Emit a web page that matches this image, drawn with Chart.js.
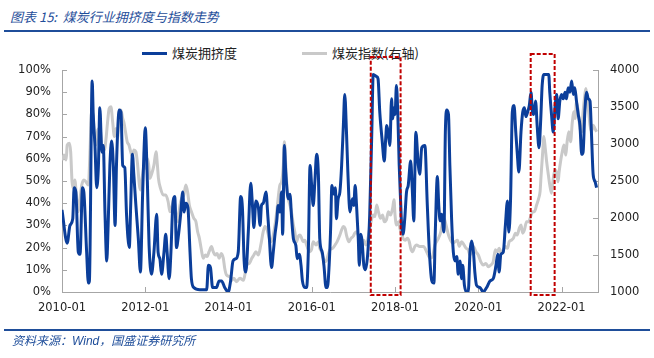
<!DOCTYPE html>
<html><head><meta charset="utf-8">
<script src="https://cdn.jsdelivr.net/npm/chart.js@4.4.1/dist/chart.umd.min.js"></script>
<style>
html,body{margin:0;padding:0;background:#fff;}
#wrap{position:relative;width:654px;height:358px;overflow:hidden;background:#fff;}
#c{position:absolute;left:0;top:0;}
.title{position:absolute;left:10px;top:7px;font:italic 13px "Noto Sans CJK SC",sans-serif;color:#1F4E9A;white-space:pre;}
.rule{position:absolute;left:4px;width:646px;height:2px;background:#1F4E9A;}
.foot{position:absolute;left:12px;top:331px;font:italic 12px "Noto Sans CJK SC",sans-serif;color:#1F4E9A;white-space:pre;}
.lg{position:absolute;top:45px;font:13px "Noto Sans CJK SC",sans-serif;color:#222;white-space:pre;line-height:16px;}
.lg i{display:inline-block;width:25px;height:3px;vertical-align:middle;margin-right:5px;position:relative;top:-1px;}
</style></head>
<body><div id="wrap">
<div class="title">图表 15:  煤炭行业拥挤度与指数走势</div>
<div class="rule" style="top:30px"></div>
<div class="lg" style="left:142px"><i style="background:#0B3E9A"></i>煤炭拥挤度</div>
<div class="lg" style="left:302px"><i style="background:#C9C9C9"></i>煤炭指数(右轴)</div>
<canvas id="c" width="654" height="358"></canvas>
<div class="rule" style="top:329px"></div>
<div class="foot">资料来源：<b style="font-family:'Liberation Sans',sans-serif;font-weight:normal">Wind</b>，国盛证券研究所</div>
</div>
<script>
// months since 2010-01
const blueT = [0,1.5,2.3,3.1,3.5,4.0,4.7,5.2,5.9,6.3,7.1,7.6,7.9,8.7,9.0,9.5,10.0,10.5,10.9,11.5,11.9,12.4,12.9,13.3,13.8,14.3,14.8,15.3,15.7,16.5,17.0,17.5,18.1,18.6,19.4,19.8,20.3,20.7,21.3,22.0,22.6,23.2,23.6,24.0,24.6,25.1,25.8,26.5,27.3,27.7,28.2,28.7,29.4,29.9,30.3,30.9,31.4,31.9,32.5,33.0,33.6,34.2,34.8,35.2,35.7,36.3,36.9,37.3,38.0,39.7,41.7,42.2,42.8,43.4,44.5,45.3,46.0,46.9,47.9,48.6,49.3,50.1,50.8,51.5,52.0,52.5,53.0,53.7,54.4,54.9,55.3,55.9,56.6,57.1,57.5,58.0,58.8,59.3,59.7,60.4,60.9,61.4,61.9,62.3,62.8,63.3,63.6,64.1,64.5,65.2,65.7,66.2,66.7,67.4,67.8,68.4,68.9,69.3,70.0,70.5,71.0,71.5,72.0,72.4,72.9,73.4,73.9,74.3,75.0,75.5,76.1,76.5,77.0,77.4,77.8,78.4,78.8,79.1,79.6,80.1,80.6,81.1,81.5,82.0,82.4,83.0,83.7,84.1,84.5,84.9,85.4,85.7,86.1,86.5,87.0,87.5,88.0,88.4,88.7,89.3,89.7,90.7,91.1,91.6,92.3,92.9,93.3,93.6,94.0,94.5,95.0,95.3,95.7,96.0,96.4,96.8,97.2,97.6,97.9,98.3,98.8,99.3,99.8,100.5,101.0,101.4,102.0,102.7,103.1,103.7,104.6,105.3,105.9,106.6,107.2,107.6,108.2,108.6,109.0,109.4,110.1,110.5,110.9,111.4,111.8,112.3,112.8,113.3,113.8,114.2,114.7,115.2,115.5,116.0,116.6,117.1,117.6,118.1,118.6,119.0,119.5,120.5,121.4,122.4,123.4,124.3,125.1,125.6,126.0,126.5,127.2,127.8,128.4,128.8,129.3,129.8,130.3,130.8,131.2,131.7,132.3,132.8,133.3,133.7,134.2,134.7,135.2,135.6,136.0,136.5,137.0,137.5,138.0,138.4,138.9,139.7,140.3,140.6,141.1,141.6,142.1,142.6,143.0,143.5,144.0,144.5,145.0,145.4,145.9,146.4,146.9,147.4,147.8,148.3,148.8,149.3,149.8,150.2,150.7,151.2,151.7,152.2,152.6,153.1,153.6,154.1];
const congestion = [37,22,30,33,47,45,18,17,47,45,18,4,5,95,80,66,47,57,83,63,66,35,14,30,57,68,57,30,57,82,81,57,56,35,20,39,62,53,39,24,9,42,62,74,50,21,8,18,35,18,15,8,18,26,18,6,18,38,43,20,26,35,45,36,40,38,18,6,2,1,1,12,11,2,2,5,5,2,0,5,14,15,18,43,38,14,9,27,49,39,29,41,38,30,39,40,45,35,26,11,18,26,32,39,36,45,26,66,54,42,44,33,24,21,15,17,12,5,2,2,18,57,47,39,50,62,53,24,18,12,2,2,12,27,48,44,47,33,42,45,57,75,89,72,54,36,42,39,48,39,24,12,26,23,12,10,15,24,35,72,98,97,96,81,68,59,69,75,72,66,87,78,83,80,93,80,57,41,30,26,33,45,48,59,45,32,72,57,53,65,66,39,18,5,4,27,52,39,32,35,27,72,82,80,57,33,18,14,16,8,14,6,12,3,0,0,18,23,18,9,3,2,0,2,5,6,12,17,9,17,18,30,41,27,42,81,84,72,63,54,72,81,83,79,81,84,90,81,80,86,74,65,78,93,98,98,98,90,80,72,83,89,78,86,89,87,90,87,92,90,95,89,92,86,80,75,62,63,81,90,87,86,72,53,50,47];
const grayT = [0,0.6,1.2,1.5,2.1,2.5,2.9,3.3,3.7,4.2,4.7,5.2,5.7,6.3,6.9,7.6,8.1,8.5,9.0,9.3,9.8,10.2,10.7,11.1,11.6,12.2,12.7,13.1,13.6,14.1,14.6,15.1,15.6,16.0,16.5,17.0,17.5,17.9,18.3,18.8,19.3,19.8,20.3,20.7,21.3,21.8,22.3,22.6,23.2,23.7,24.2,24.6,25.0,25.3,25.9,26.5,27.1,27.5,27.8,28.4,29.2,29.9,30.6,31.1,31.8,32.2,32.8,33.4,34.0,34.5,35.1,35.7,36.2,36.7,37.3,38.0,38.6,39.1,39.6,40.1,40.7,41.3,41.8,42.4,43.1,43.6,44.2,44.7,45.3,45.9,46.5,46.9,47.4,48.4,48.9,49.5,50.3,51.3,52.3,52.7,53.2,54.0,54.7,55.3,55.9,56.6,57.3,58.0,58.5,59.0,59.5,60.1,60.7,61.4,61.9,62.3,62.8,63.3,63.8,64.1,64.4,64.7,65.2,65.7,66.2,66.7,67.1,67.6,68.1,68.6,69.1,69.5,70.0,70.5,71.0,71.5,71.9,72.4,73.2,73.9,74.3,74.8,75.3,75.8,76.3,76.7,77.2,78.0,78.7,79.3,80.1,80.6,81.1,81.6,82.0,82.7,83.3,83.9,84.4,84.9,85.4,85.9,86.4,87.0,87.6,88.2,88.7,89.3,89.7,90.2,90.7,91.2,91.8,92.4,92.9,93.5,94.1,94.7,95.3,95.7,96.0,96.4,97.0,97.4,98.0,98.3,98.9,99.5,100.1,100.5,101.0,101.7,102.2,103.1,104.2,105.1,106.1,106.8,107.5,108.5,109.2,109.7,110.1,110.7,111.4,112.0,112.6,113.3,114.0,114.5,115.2,115.9,116.5,117.1,117.6,118.1,118.6,119.3,120.0,120.7,121.4,122.2,122.9,123.6,124.3,124.9,125.5,126.0,126.6,127.2,127.8,128.4,128.9,129.5,130.1,130.7,131.2,131.8,132.3,132.8,133.3,133.9,134.5,135.1,135.7,136.2,136.8,137.4,137.8,138.1,138.5,138.9,139.3,139.7,140.2,140.6,141.1,141.6,142.1,142.6,143.0,143.3,143.7,144.2,144.7,145.2,145.6,146.1,146.6,147.1,147.6,147.9,148.3,148.8,149.3,149.8,150.2,150.7,151.0,151.4,151.8,152.2,152.6,153.1,153.6,154.1];
const coalIndex = [2780,2850,2785,2985,3010,2895,2490,2400,2515,2265,2085,2265,2445,2515,2490,2445,2940,3435,3390,3120,2985,3165,3210,3165,2940,2920,3075,3280,3480,3505,3300,3100,3210,3075,3415,3460,3345,3280,3165,3030,2985,2895,2830,2920,2895,2715,2445,2380,2580,2715,2670,2805,2715,2535,2605,2715,2895,2715,2535,2400,2310,2310,2220,2085,2175,2265,2085,1950,2175,2265,2310,2445,2355,2175,2085,1995,1950,1815,1725,1590,1455,1500,1480,1545,1615,1545,1500,1520,1455,1520,1455,1320,1230,1205,1160,1185,1140,1185,1160,1230,1365,1385,1455,1500,1545,1500,1635,1815,1885,1860,1770,1680,1725,1905,2085,2265,2445,2490,2715,3030,2805,2535,2265,2175,2065,1905,1815,1680,1750,1770,1725,1680,1700,1635,1570,1545,1570,1680,1635,1680,1590,1545,1455,1410,1430,1500,1570,1590,1635,1680,1770,1840,1885,1860,1770,1680,1725,1750,1795,1815,1770,1725,1615,1700,1635,1725,1860,1995,2040,2020,2175,2085,1995,2040,1950,1975,2085,2040,2130,2245,2040,1905,1950,1860,1770,1725,1700,1725,1680,1590,1545,1615,1635,1615,1615,1545,1455,1480,1635,1725,1815,1950,1995,1905,1770,1700,1660,1680,1700,1615,1680,1635,1590,1570,1500,1545,1615,1545,1500,1410,1365,1385,1340,1365,1410,1570,1545,1590,1520,1570,1615,1590,1680,1700,1725,1795,1770,1860,1905,1795,1840,1950,1950,2020,2085,2085,2175,2265,2355,2580,2850,3100,2940,2760,2580,2445,2335,2535,2650,2605,2490,2625,2760,2895,2985,2850,3030,3165,3030,3300,3435,3345,3570,3435,3210,3165,3435,3660,3750,3615,3435,3255,3165,3255,3210,3165];
const xTickValues = [0,24,48,72,96,120,144];
const xTickLabels = ['2010-01','2012-01','2014-01','2016-01','2018-01','2020-01','2022-01'];
const highlightRanges = [[89.0,97.6],[135.1,142.0]];

const tickFont = {family:'DejaVu Sans', size:11.5};
const axisColor = '#A6A6A6';
const boxTopOffsets = [13, 16];

const inwardTicks = {
  id:'inwardTicks',
  beforeDatasetsDraw(c){
    const {ctx, chartArea:a, scales} = c;
    ctx.save(); ctx.strokeStyle = axisColor; ctx.lineWidth = 1;
    scales.y.ticks.forEach(t=>{const y=Math.round(scales.y.getPixelForValue(t.value))+0.5; ctx.beginPath(); ctx.moveTo(a.left,y); ctx.lineTo(a.left+5,y); ctx.stroke();});
    scales.y2.ticks.forEach(t=>{const y=Math.round(scales.y2.getPixelForValue(t.value))+0.5; ctx.beginPath(); ctx.moveTo(a.right-5,y); ctx.lineTo(a.right,y); ctx.stroke();});
    scales.x.ticks.forEach(t=>{const x=Math.round(scales.x.getPixelForValue(t.value))+0.5; ctx.beginPath(); ctx.moveTo(x,a.bottom); ctx.lineTo(x,a.bottom-5); ctx.stroke();});
    ctx.restore();
  }
};
const boxes = {
  id:'boxes',
  afterDatasetsDraw(c){
    const {ctx, chartArea:a, scales} = c;
    ctx.save(); ctx.strokeStyle='#C00000'; ctx.lineWidth=2; ctx.setLineDash([4,2]);
    highlightRanges.forEach((r,i)=>{
      const x0=scales.x.getPixelForValue(r[0]), x1=scales.x.getPixelForValue(r[1]);
      const top=a.top-boxTopOffsets[i];
      ctx.strokeRect(x0, top, x1-x0, a.bottom+3-top);
    });
    ctx.restore();
  }
};

new Chart(document.getElementById('c'), {
  type:'line',
  data:{datasets:[
    {label:'煤炭拥挤度', data:blueT.map((t,i)=>({x:t,y:congestion[i]})), yAxisID:'y', borderColor:'#0B3E9A', borderWidth:3, pointRadius:0, cubicInterpolationMode:'monotone', fill:false},
    {label:'煤炭指数(右轴)', data:grayT.map((t,i)=>({x:t,y:coalIndex[i]})), yAxisID:'y2', borderColor:'#C9C9C9', borderWidth:3, pointRadius:0, cubicInterpolationMode:'monotone', fill:false}
  ]},
  options:{
    responsive:false, animation:false, devicePixelRatio:1,
    layout:{padding:{top:70,left:0,right:0,bottom:0}},
    plugins:{legend:{display:false}, tooltip:{enabled:false}},
    scales:{
      x:{type:'linear', min:0, max:154.5,
        afterBuildTicks:s=>{s.ticks = xTickValues.map(v=>({value:v}));},
        ticks:{callback:v=>xTickLabels[xTickValues.indexOf(v)], maxRotation:0, autoSkip:false, padding:9, font:tickFont, color:'#222'},
        grid:{display:false, drawTicks:false}, border:{display:true, color:axisColor, width:1},
        afterFit:s=>{s.height=66;}},
      y:{position:'left', min:0, max:100,
        ticks:{stepSize:10, callback:v=>v+'%', padding:11, font:tickFont, color:'#222'},
        grid:{display:false, drawTicks:false}, border:{display:true, color:axisColor, width:1},
        afterFit:s=>{s.width=62;}},
      y2:{position:'right', min:1000, max:4000,
        ticks:{stepSize:500, callback:v=>String(v), padding:12, font:tickFont, color:'#222'},
        grid:{display:false, drawTicks:false}, border:{display:true, color:axisColor, width:1},
        afterFit:s=>{s.width=56;}}
    }
  },
  plugins:[inwardTicks, boxes]
});
</script>
</body></html>
